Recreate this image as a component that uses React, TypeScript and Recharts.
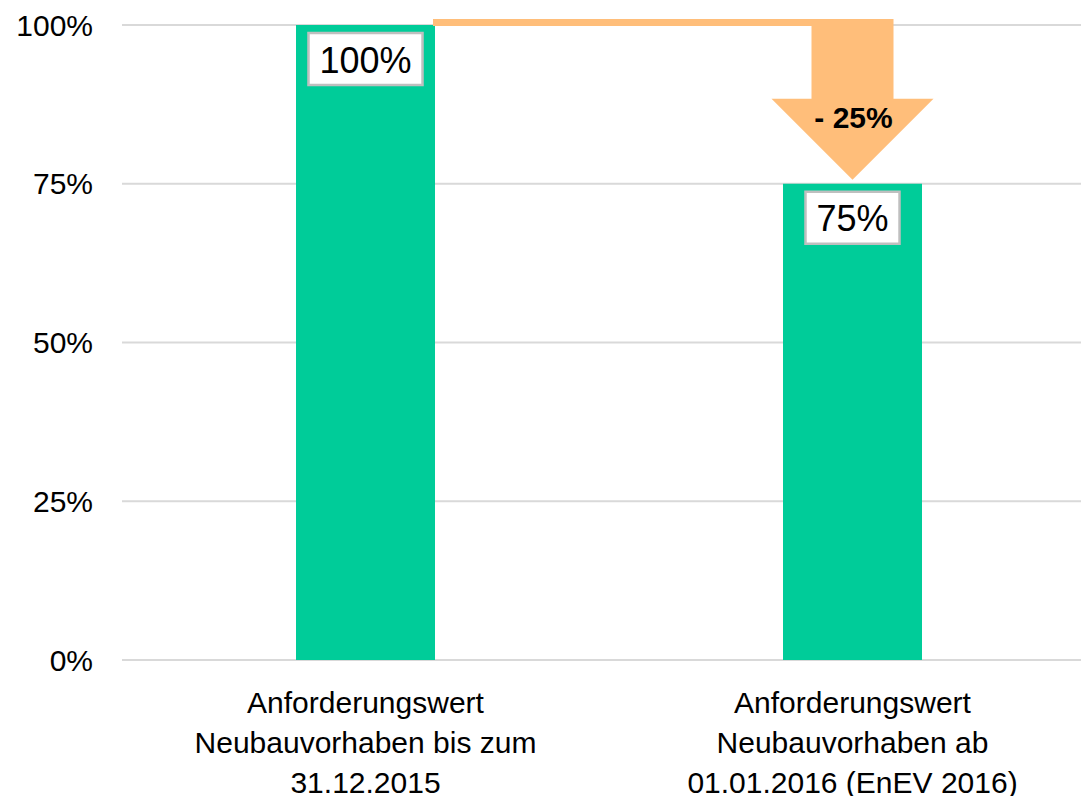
import { BarChart, Bar, XAxis, YAxis, CartesianGrid, LabelList } from "recharts";

const categories = [
  "Anforderungswert\nNeubauvorhaben bis zum\n31.12.2015",
  "Anforderungswert\nNeubauvorhaben ab\n01.01.2016 (EnEV 2016)",
];
const values = [100, 75];
const yTicks = [0, 25, 50, 75, 100];

const data = categories.map((name, i) => ({ name, value: values[i] }));

// chart is a bit wider than the page, the plot runs off the right edge
const W = 1096;
const H = 796;
const Y_W = 122;
const X_H = 136;
const BAND = (W - Y_W) / categories.length;

const FONT = "'Liberation Sans', Arial, Helvetica, sans-serif";
const GREEN = "#00CC99";
const ORANGE = "#FFBE7A";

function XTick(props: any) {
  const { x, y, payload } = props;
  const lines = String(payload.value).split("\n");
  return (
    <text x={x} y={y + 53} textAnchor="middle" fontSize={30} fill="#000" fontFamily={FONT}>
      {lines.map((l, i) => (
        <tspan key={i} x={x} dy={i === 0 ? 0 : 40}>
          {l}
        </tspan>
      ))}
    </text>
  );
}

function BarLabel(props: any) {
  const { x, y, width, height, value, index } = props;
  const cx = x + width / 2;
  const text = `${value}%`;
  const fs = 36;
  const tw = String(value).length * 0.556 * fs + 0.889 * fs;
  const bw = tw + 22;
  const bh = 52;

  let arrow = null;
  if (index > 0) {
    const prev = values[index - 1];
    const unit = height / value;
    const yPrev = y + height - prev * unit;
    const gap = y - yPrev;
    const headY = yPrev + gap * 0.465;
    const leftX = x - BAND + width - 2;
    const pts = [
      [leftX, yPrev - 6],
      [cx + 41, yPrev - 6],
      [cx + 41, headY],
      [cx + 81, headY],
      [cx, y - 4],
      [cx - 81, headY],
      [cx - 41, headY],
      [cx - 41, yPrev + 1],
      [leftX, yPrev + 1],
    ]
      .map((p) => p.join(","))
      .join(" ");
    arrow = (
      <g>
        <polygon points={pts} fill={ORANGE} />
        <text
          x={cx + 1}
          y={yPrev + gap * 0.585}
          textAnchor="middle"
          dominantBaseline="central"
          fontSize={30}
          fontWeight="bold"
          fill="#000"
          fontFamily={FONT}
        >
          {`- ${prev - value}%`}
        </text>
      </g>
    );
  }

  return (
    <g>
      {arrow}
      <rect x={cx - bw / 2} y={y + 8} width={bw} height={bh} fill="#fff" stroke="#bfbfbf" strokeWidth={2.5} />
      <text
        x={cx}
        y={y + 8 + bh / 2 + 1}
        textAnchor="middle"
        dominantBaseline="central"
        fontSize={fs}
        fill="#000"
        fontFamily={FONT}
      >
        {text}
      </text>
    </g>
  );
}

export default function App() {
  return (
    <div
      style={{
        position: "absolute",
        left: 0,
        top: 0,
        width: 1081,
        height: 796,
        overflow: "hidden",
        background: "#fff",
        fontFamily: FONT,
      }}
    >
      <BarChart width={W} height={H} data={data} margin={{ top: 25, right: 0, left: 0, bottom: 0 }}>
        <CartesianGrid vertical={false} stroke="#d9d9d9" strokeWidth={2} />
        <XAxis
          dataKey="name"
          height={X_H}
          axisLine={false}
          tickLine={false}
          tickSize={0}
          tickMargin={0}
          interval={0}
          tick={<XTick />}
        />
        <YAxis
          width={Y_W}
          domain={[0, 100]}
          ticks={yTicks}
          tickFormatter={(v) => `${v}%`}
          axisLine={false}
          tickLine={false}
          tickSize={0}
          tickMargin={29}
          tick={{ fontSize: 30, fill: "#000", fontFamily: FONT }}
        />
        <Bar dataKey="value" fill={GREEN} barSize={139} isAnimationActive={false}>
          <LabelList dataKey="value" content={<BarLabel />} />
        </Bar>
      </BarChart>
    </div>
  );
}
